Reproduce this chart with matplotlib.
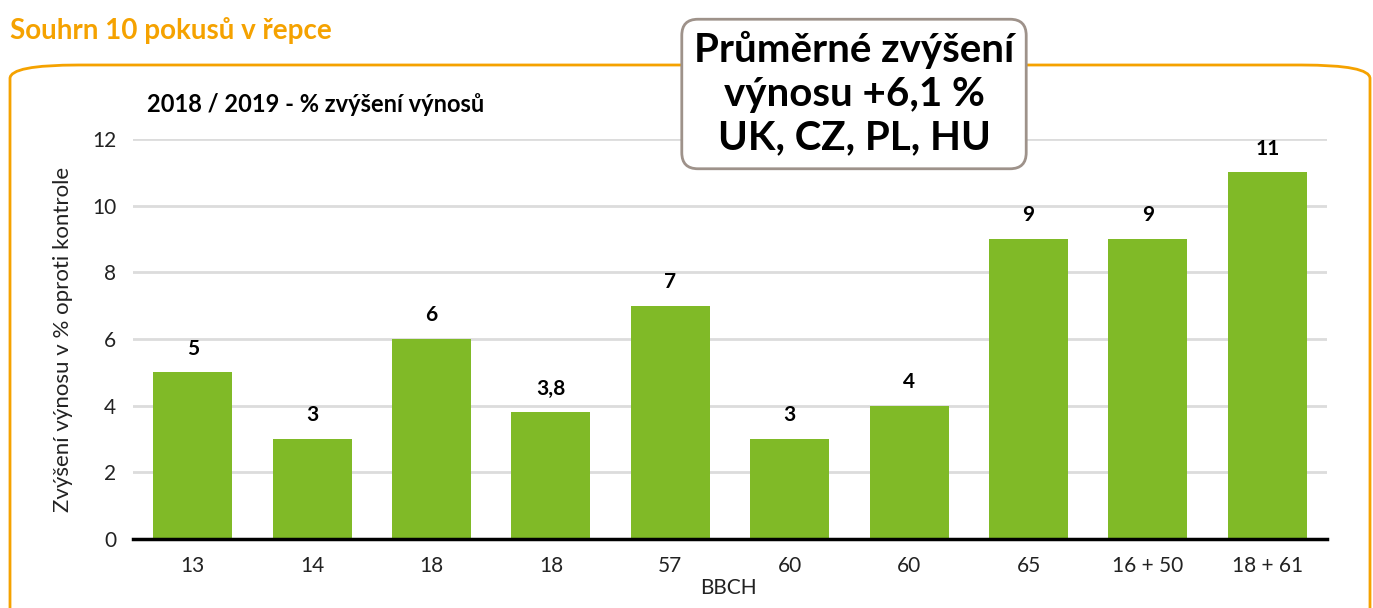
import matplotlib
matplotlib.use("Agg")
import matplotlib.pyplot as plt
from matplotlib.patches import FancyBboxPatch

categories = ["13", "14", "18", "18", "57", "60", "60", "65", "16 + 50", "18 + 61"]
values = [5, 3, 6, 3.8, 7, 3, 4, 9, 9, 11]
value_labels = ["5", "3", "6", "3,8", "7", "3", "4", "9", "9", "11"]
yticks = [0, 2, 4, 6, 8, 10, 12]

plt.rcParams['font.family'] = ['Lato', 'DejaVu Sans']

W, H = 1373, 608
fig = plt.figure(figsize=(W / 100, H / 100), dpi=100)

# orange frame
frame = FancyBboxPatch((10 / W, -0.05), (1360 / W), (1 - 65 / H) + 0.05,
                       boxstyle="round,pad=0,rounding_size=0.05",
                       transform=fig.transFigure, fill=False,
                       edgecolor="#F5A200", linewidth=2, zorder=0,
                       mutation_aspect=H / W)
fig.add_artist(frame)

fig.text(10 / W, 1 - 31 / H, "Souhrn 10 pokusů v řepce", color="#F5A200",
         fontsize=20, fontweight="bold", ha="left", va="center")

ax = fig.add_axes([133 / W, 1 - 539 / H, (1327 - 133) / W, (539 - 139) / H])
x = list(range(len(categories)))
ax.bar(x, values, width=0.66, color="#80BA27", zorder=3)
ax.set_xlim(-0.5, len(categories) - 0.5)
ax.set_ylim(0, 12)
ax.set_yticks(yticks)
ax.set_yticklabels([str(t) for t in yticks])
ax.set_xticks(x)
ax.set_xticklabels(categories)
ax.tick_params(axis="both", length=0, labelsize=15, colors="#222222", pad=12)
ax.grid(axis="y", color="#dcdcdc", linewidth=2, zorder=0)
for s in ["top", "right", "left"]:
    ax.spines[s].set_visible(False)
ax.spines["bottom"].set_linewidth(2.5)
ax.spines["bottom"].set_color("black")
ax.spines["bottom"].set_zorder(4)

for xi, v, lab in zip(x, values, value_labels):
    ax.annotate(lab, (xi, v), xytext=(0, 17), textcoords="offset points",
                ha="center", va="center", fontsize=15, fontweight="bold", color="black")

ax.set_ylabel("Zvýšení výnosu v % oproti kontrole", fontsize=16,
              color="#222222", labelpad=14)
fig.text(728 / W, 1 - 588 / H, "BBCH", fontsize=15,
         color="#222222", ha="center", va="center")

fig.text(147 / W, 1 - 105 / H, "2018 / 2019 - % zvýšení výnosů", fontsize=17,
         fontweight="bold", ha="left", va="center")

fig.text(854 / W, 1 - 94 / H, "Průměrné zvýšení\nvýnosu +6,1 %\nUK, CZ, PL, HU",
         fontsize=29, fontweight="bold", ha="center", va="center", linespacing=1.22,
         bbox=dict(boxstyle="round,pad=0.3,rounding_size=0.4", facecolor="white",
                   edgecolor="#9E928A", linewidth=2), zorder=10)

fig.savefig("out.png", dpi=100)
